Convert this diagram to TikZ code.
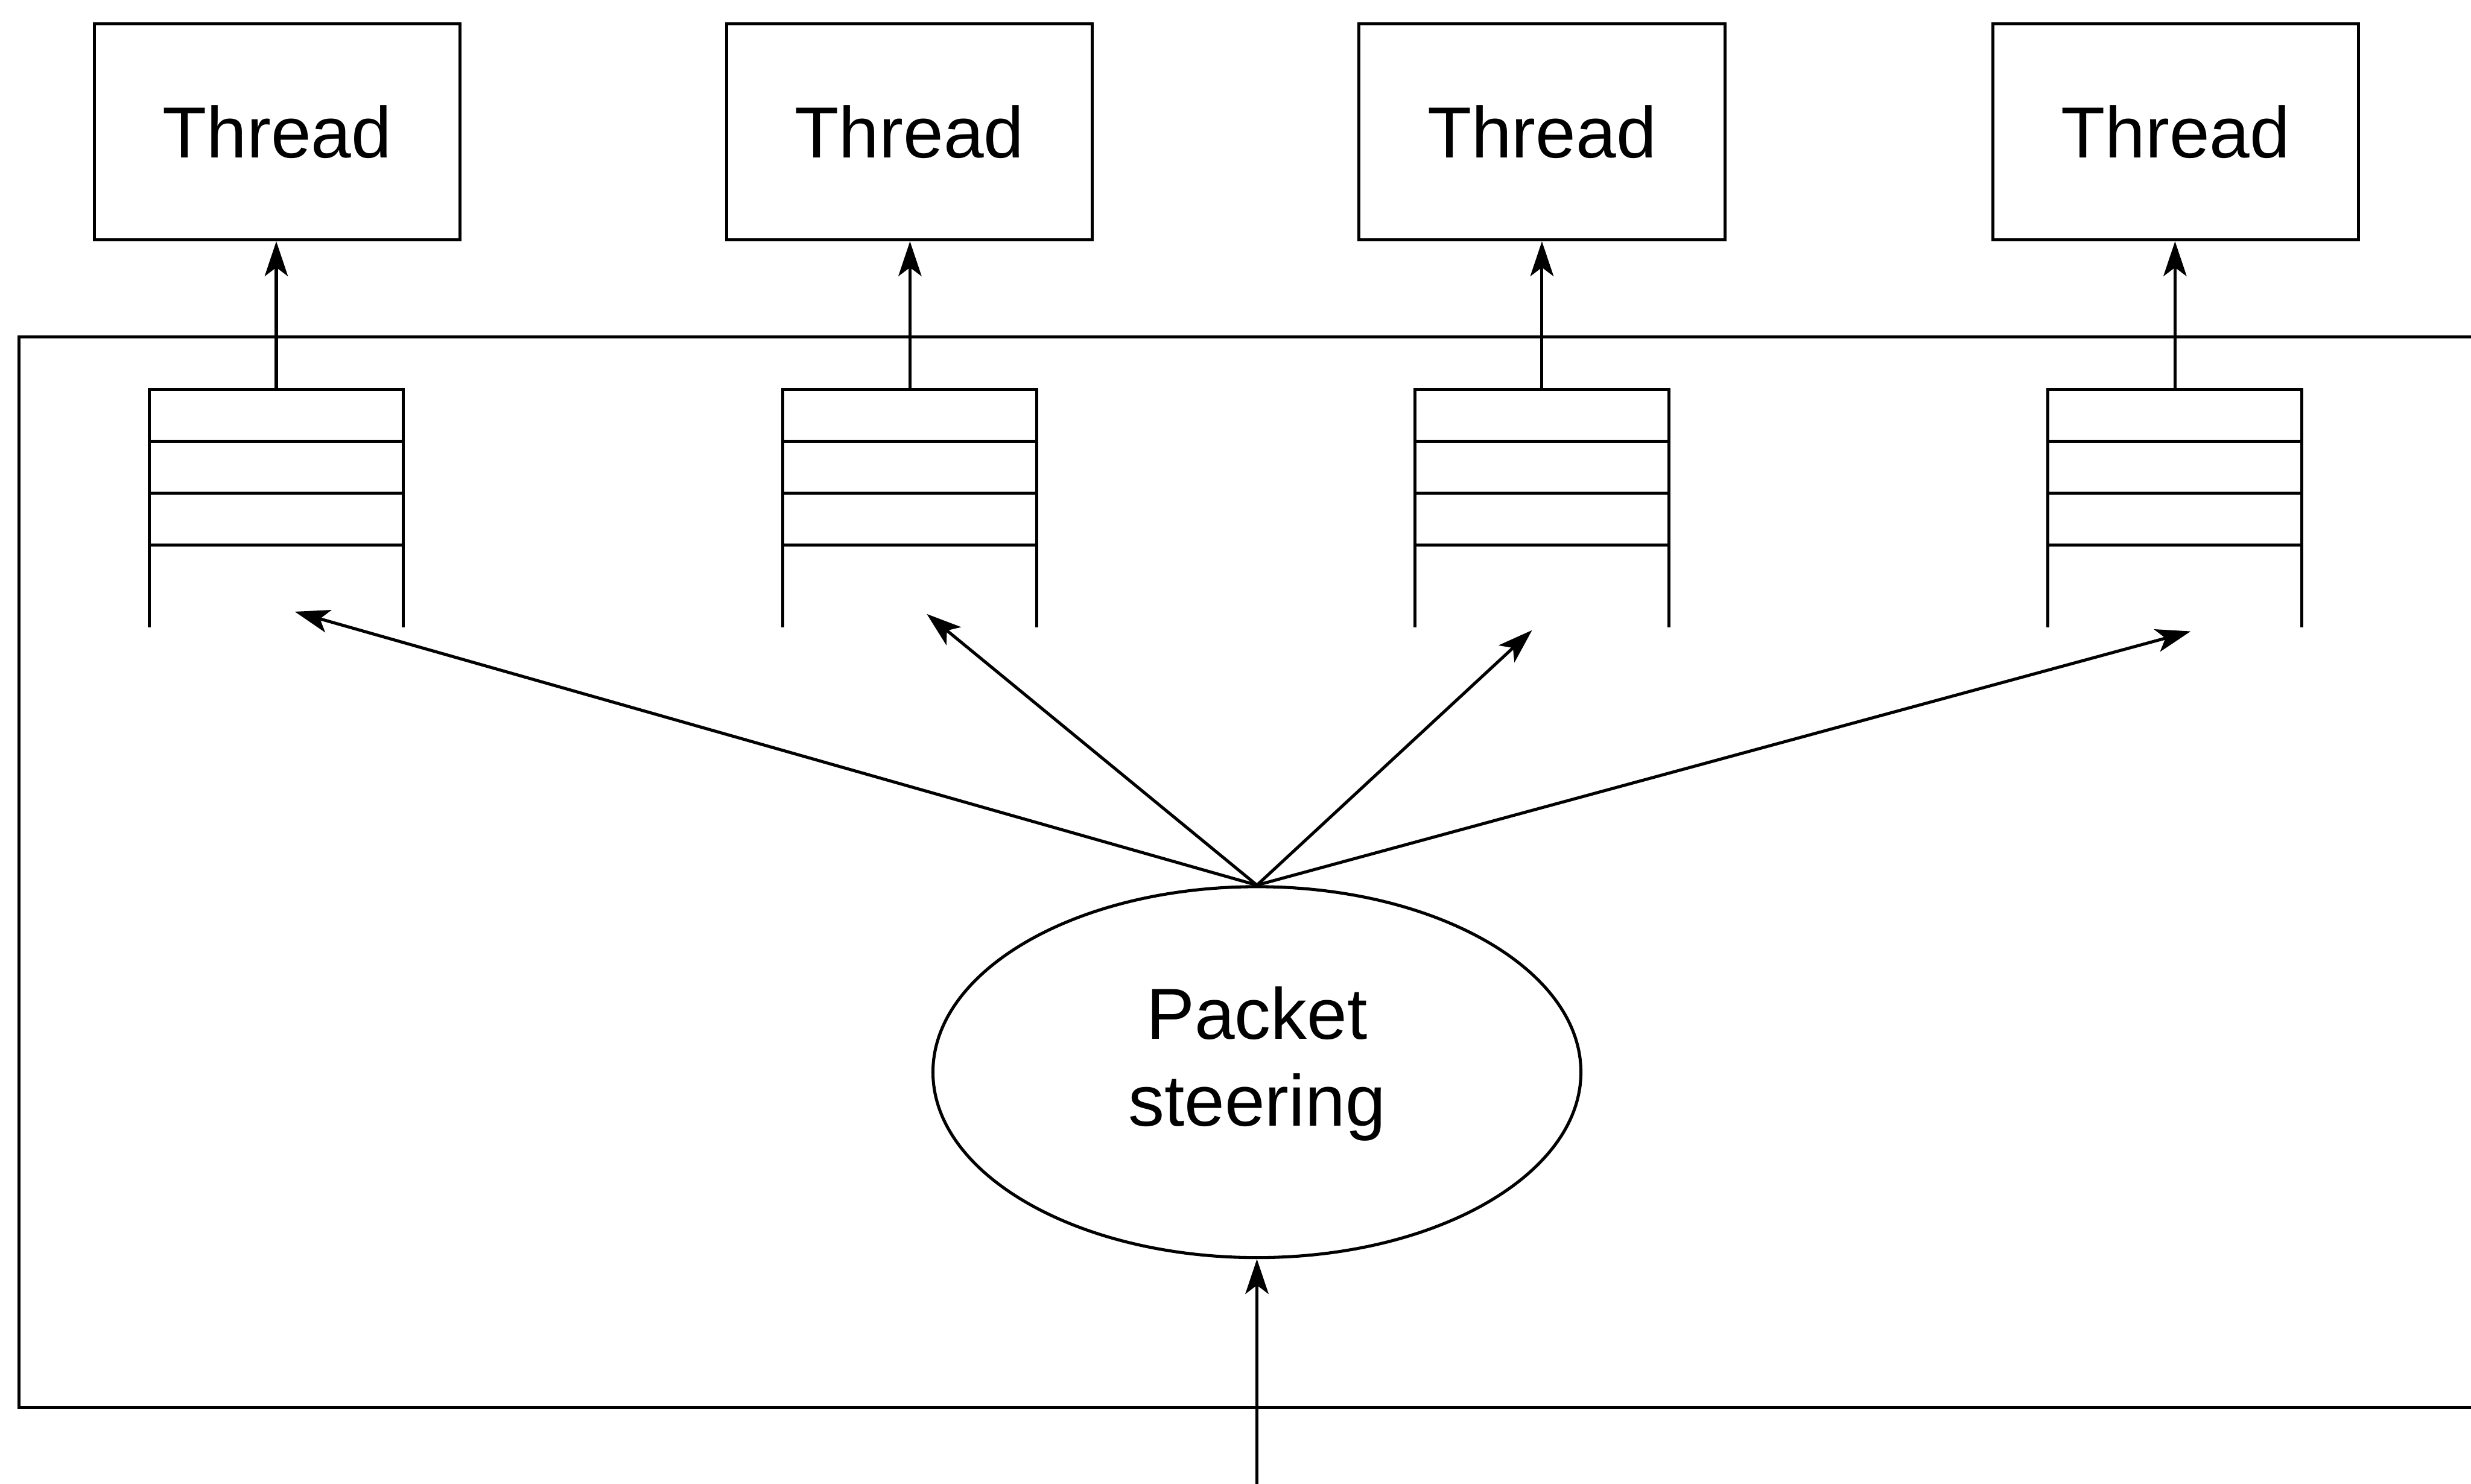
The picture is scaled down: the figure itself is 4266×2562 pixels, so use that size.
\documentclass[tikz,border=0pt]{standalone}
\usepackage{fontspec}
\setmainfont{Liberation Sans}
\usetikzlibrary{shapes.geometric,arrows.meta}
\begin{document}
\begin{tikzpicture}[x=0.01cm,y=-0.01cm, line width=1.5pt,
  thread/.style={draw, rectangle, minimum width=6.31cm, minimum height=3.73cm, inner sep=0pt,
    font=\fontsize{35.5}{42.6}\selectfont},
  qbox/.style={rectangle, minimum width=4.33cm, minimum height=4.05cm, inner sep=0pt},
  steer/.style={draw, ellipse, minimum width=11.18cm, minimum height=6.4cm, inner sep=0pt},
  steertext/.style={align=center, inner sep=0pt, font=\fontsize{35.5}{42.6}\selectfont},
  arr/.style={-{Stealth[length=0.6cm,width=0.4cm,inset=0.15cm]}}]
\useasboundingbox (0,0) rectangle (4266,2562);

% outer frame (open on the right)
\draw (4266,582) -- (33,582) -- (33,2430) -- (4266,2430);

% threads
\node[thread] (t1) at (478.5,227.5) {Thread};
\node[thread] (t2) at (1570,227.5) {Thread};
\node[thread] (t3) at (2662,227.5) {Thread};
\node[thread] (t4) at (3756,227.5) {Thread};

% queues
\node[qbox] (q1) at (477,877.5) {};
\node[qbox] (q2) at (1571,877.5) {};
\node[qbox] (q3) at (2662,877.5) {};
\node[qbox] (q4) at (3755,877.5) {};
\foreach \q in {q1,q2,q3,q4}{
  \draw (\q.south west) -- (\q.north west) -- (\q.north east) -- (\q.south east);
  \foreach \d in {0.9,1.79,2.69}{
    \draw ([yshift=-\d cm]\q.north west) -- ([yshift=-\d cm]\q.north east);
  }
}
\draw[arr] (q1.north) -- (q1.north |- t1.south);
\draw[arr] (q2.north) -- (q2.north |- t2.south);
\draw[arr] (q3.north) -- (q3.north |- t3.south);
\draw[arr] (q4.north) -- (q4.north |- t4.south);

% packet steering
\node[steer] (ps) at (2170,1851) {};
\node[steertext] (pst) at ([yshift=0.14cm]ps.center) {Packet\\steering};

\coordinate (e1) at (509,1056);
\coordinate (e2) at (1600,1060);
\coordinate (e3) at (2645,1088);
\coordinate (e4) at (3782,1090);
\draw[arr] (ps.north) -- (e1);
\draw[arr] (ps.north) -- (e2);
\draw[arr] (ps.north) -- (e3);
\draw[arr] (ps.north) -- (e4);

\coordinate (in) at (2170,2562);
\draw[arr] (in) -- (ps.south);
\end{tikzpicture}
\end{document}
